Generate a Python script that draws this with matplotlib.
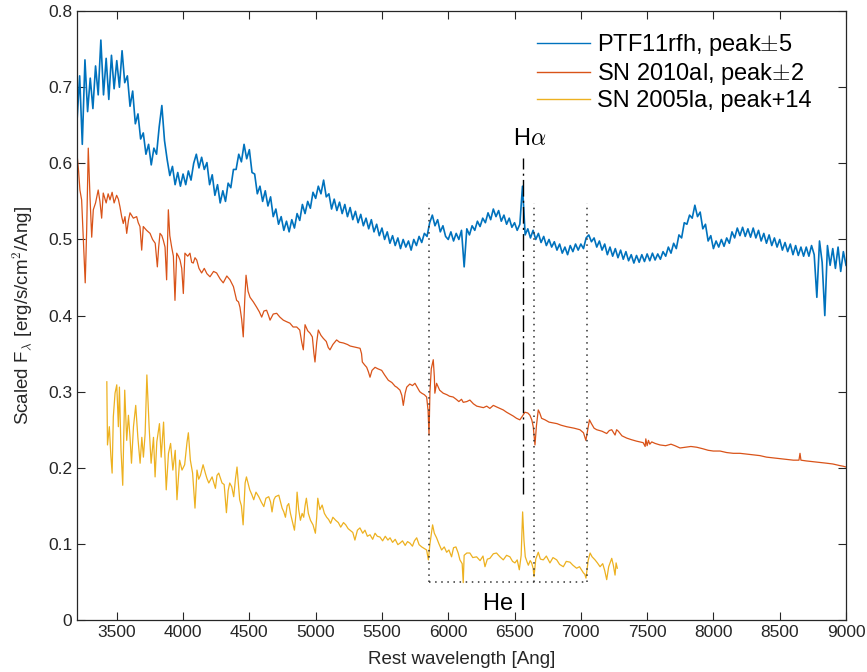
import numpy as np
import matplotlib
matplotlib.use("Agg")
import matplotlib.pyplot as plt

plt.rcParams['font.family'] = ['Liberation Sans', 'DejaVu Sans']
plt.rcParams['mathtext.fontset'] = 'cm'

# PTF11rfh: sampled every 20 Ang from 3200 to 9000
wl_ptf = np.arange(3200, 9001, 20)
flux_ptf = [
    0.655, 0.715, 0.625, 0.736, 0.668, 0.712, 0.672, 0.728, 0.690, 0.762,
    0.690, 0.738, 0.684, 0.742, 0.698, 0.735, 0.700, 0.748, 0.706, 0.715,
    0.675, 0.695, 0.652, 0.665, 0.632, 0.640, 0.612, 0.625, 0.598, 0.620,
    0.612, 0.648, 0.676, 0.630, 0.605, 0.584, 0.596, 0.572, 0.588, 0.570,
    0.586, 0.572, 0.590, 0.578, 0.600, 0.612, 0.594, 0.608, 0.592, 0.601,
    0.572, 0.585, 0.558, 0.572, 0.548, 0.564, 0.550, 0.574, 0.568, 0.592,
    0.592, 0.612, 0.602, 0.625, 0.606, 0.618, 0.588, 0.586, 0.560, 0.570,
    0.550, 0.564, 0.544, 0.556, 0.530, 0.540, 0.520, 0.530, 0.512, 0.524,
    0.510, 0.526, 0.515, 0.534, 0.525, 0.546, 0.534, 0.550, 0.541, 0.562,
    0.554, 0.570, 0.560, 0.578, 0.556, 0.560, 0.540, 0.553, 0.538, 0.549,
    0.534, 0.546, 0.530, 0.542, 0.526, 0.537, 0.522, 0.533, 0.518, 0.528,
    0.514, 0.526, 0.510, 0.520, 0.505, 0.515, 0.500, 0.510, 0.495, 0.505,
    0.492, 0.502, 0.488, 0.500, 0.490, 0.498, 0.486, 0.500, 0.492, 0.504,
    0.496, 0.508, 0.504, 0.522, 0.532, 0.518, 0.526, 0.510, 0.518, 0.504,
    0.500, 0.510, 0.498, 0.508, 0.500, 0.512, 0.464, 0.514, 0.506, 0.518,
    0.512, 0.524, 0.517, 0.528, 0.522, 0.535, 0.526, 0.540, 0.530, 0.538,
    0.524, 0.532, 0.520, 0.528, 0.516, 0.522, 0.512, 0.520, 0.570, 0.506,
    0.514, 0.502, 0.512, 0.500, 0.508, 0.496, 0.504, 0.492, 0.500, 0.490,
    0.497, 0.486, 0.494, 0.482, 0.490, 0.480, 0.492, 0.484, 0.494, 0.486,
    0.494, 0.488, 0.502, 0.506, 0.497, 0.502, 0.490, 0.498, 0.486, 0.494,
    0.480, 0.490, 0.478, 0.488, 0.476, 0.486, 0.474, 0.484, 0.472, 0.480,
    0.469, 0.479, 0.470, 0.480, 0.471, 0.481, 0.472, 0.482, 0.473, 0.481,
    0.474, 0.484, 0.478, 0.490, 0.482, 0.495, 0.488, 0.506, 0.502, 0.522,
    0.520, 0.532, 0.528, 0.545, 0.530, 0.536, 0.514, 0.520, 0.498, 0.505,
    0.488, 0.498, 0.490, 0.500, 0.491, 0.502, 0.495, 0.510, 0.502, 0.515,
    0.505, 0.516, 0.504, 0.514, 0.503, 0.515, 0.502, 0.512, 0.498, 0.508,
    0.495, 0.506, 0.492, 0.502, 0.490, 0.500, 0.486, 0.496, 0.484, 0.494,
    0.480, 0.492, 0.479, 0.490, 0.478, 0.490, 0.478, 0.492, 0.480, 0.424,
    0.498, 0.470, 0.400, 0.492, 0.466, 0.488, 0.462, 0.490, 0.458, 0.484,
    0.466,
]

# SN 2010al
wl_10al = [
    3200, 3212, 3222, 3235, 3248, 3262, 3273, 3285, 3298, 3311, 3323, 3340, 3360, 3373, 3386, 3398,
    3420, 3435, 3449, 3465, 3480, 3499, 3512, 3524, 3537, 3549, 3562, 3575, 3588, 3600, 3625, 3650,
    3662, 3675, 3688, 3700, 3725, 3751, 3770, 3790, 3806, 3816, 3826, 3840, 3851, 3864, 3876, 3889,
    3900, 3914, 3927, 3939, 3952, 3965, 3977, 3990, 4002, 4014, 4035, 4052, 4065, 4077, 4090, 4103,
    4120, 4140, 4160, 4180, 4203, 4230, 4253, 4280, 4303, 4330, 4354, 4380, 4404, 4418, 4429, 4442,
    4454, 4465, 4475, 4490, 4505, 4530, 4555, 4575, 4593, 4610, 4630, 4645, 4656, 4680, 4706, 4730,
    4756, 4780, 4806, 4830, 4857, 4880, 4895, 4907, 4920, 4940, 4957, 4975, 4987, 4995, 5008, 5020,
    5040, 5058, 5080, 5095, 5108, 5130, 5158, 5180, 5209, 5240, 5260, 5284, 5310, 5335, 5346, 5352,
    5370, 5385, 5398, 5410, 5425, 5448, 5470, 5498, 5520, 5548, 5575, 5600, 5611, 5636, 5650, 5661,
    5675, 5687, 5710, 5730, 5749, 5765, 5785, 5800, 5820, 5837, 5848, 5855, 5862, 5872, 5887, 5895,
    5899, 5912, 5935, 5962, 5990, 6010, 6037, 6060, 6080, 6100, 6113, 6140, 6163, 6190, 6215, 6239,
    6265, 6290, 6314, 6340, 6364, 6390, 6415, 6440, 6470, 6490, 6515, 6540, 6560, 6578, 6600, 6616,
    6630, 6641, 6654, 6665, 6679, 6690, 6704, 6730, 6760, 6792, 6820, 6850, 6892, 6920, 6950, 6993,
    7020, 7038, 7052, 7065, 7080, 7100, 7120, 7160, 7195, 7215, 7233, 7258, 7270, 7283, 7310, 7346,
    7380, 7420, 7446, 7470, 7485, 7490, 7500, 7510, 7520, 7535, 7560, 7597, 7640, 7680, 7710, 7748,
    7790, 7830, 7874, 7920, 7960, 7999, 8050, 8100, 8150, 8200, 8250, 8301, 8350, 8400, 8452, 8500,
    8550, 8603, 8645, 8653, 8660, 8700, 8753, 8800, 8854, 8900, 8950, 8979, 9000,
]
flux_10al = [
    0.613, 0.590, 0.565, 0.552, 0.500, 0.443, 0.512, 0.620, 0.556, 0.503, 0.539, 0.548, 0.565, 0.550, 0.528, 0.561,
    0.548, 0.560, 0.552, 0.562, 0.548, 0.558, 0.553, 0.543, 0.530, 0.521, 0.530, 0.508, 0.525, 0.535, 0.528, 0.530,
    0.522, 0.517, 0.486, 0.517, 0.512, 0.508, 0.500, 0.495, 0.464, 0.490, 0.508, 0.505, 0.499, 0.490, 0.447, 0.539,
    0.505, 0.490, 0.478, 0.420, 0.482, 0.478, 0.473, 0.462, 0.429, 0.482, 0.478, 0.482, 0.470, 0.469, 0.476, 0.473,
    0.462, 0.456, 0.462, 0.455, 0.451, 0.458, 0.456, 0.448, 0.443, 0.452, 0.447, 0.438, 0.420, 0.418, 0.411, 0.395,
    0.372, 0.420, 0.453, 0.432, 0.424, 0.418, 0.411, 0.405, 0.398, 0.406, 0.407, 0.400, 0.394, 0.402, 0.403, 0.398,
    0.394, 0.392, 0.390, 0.385, 0.385, 0.381, 0.365, 0.355, 0.388, 0.380, 0.377, 0.372, 0.350, 0.339, 0.365, 0.381,
    0.374, 0.370, 0.366, 0.358, 0.355, 0.362, 0.368, 0.365, 0.364, 0.362, 0.360, 0.359, 0.358, 0.357, 0.350, 0.339,
    0.335, 0.332, 0.326, 0.319, 0.328, 0.332, 0.330, 0.328, 0.322, 0.315, 0.312, 0.307, 0.306, 0.302, 0.295, 0.282,
    0.298, 0.306, 0.310, 0.308, 0.311, 0.306, 0.300, 0.298, 0.296, 0.293, 0.275, 0.243, 0.300, 0.330, 0.342, 0.320,
    0.298, 0.311, 0.302, 0.298, 0.296, 0.294, 0.293, 0.290, 0.287, 0.290, 0.286, 0.287, 0.289, 0.284, 0.281, 0.280,
    0.279, 0.281, 0.278, 0.282, 0.280, 0.278, 0.276, 0.273, 0.270, 0.268, 0.265, 0.263, 0.268, 0.273, 0.272, 0.269,
    0.263, 0.254, 0.230, 0.255, 0.276, 0.272, 0.265, 0.263, 0.260, 0.259, 0.258, 0.256, 0.254, 0.253, 0.252, 0.250,
    0.246, 0.236, 0.250, 0.263, 0.258, 0.252, 0.250, 0.248, 0.245, 0.249, 0.250, 0.243, 0.250, 0.248, 0.242, 0.239,
    0.237, 0.235, 0.234, 0.233, 0.228, 0.238, 0.229, 0.236, 0.231, 0.234, 0.232, 0.230, 0.229, 0.231, 0.229, 0.226,
    0.227, 0.228, 0.227, 0.225, 0.223, 0.222, 0.222, 0.220, 0.219, 0.219, 0.218, 0.217, 0.216, 0.214, 0.213, 0.212,
    0.211, 0.210, 0.210, 0.219, 0.210, 0.209, 0.208, 0.207, 0.206, 0.205, 0.203, 0.202, 0.201,
]

# SN 2005la
wl_05la = [
    3425, 3430, 3444, 3455, 3465, 3474, 3487, 3500, 3512, 3520, 3532, 3545, 3560, 3575, 3588, 3600,
    3611, 3626, 3643, 3659, 3676, 3689, 3701, 3714, 3727, 3744, 3759, 3777, 3789, 3802, 3822, 3835,
    3853, 3873, 3890, 3906, 3923, 3941, 3954, 3974, 3992, 4012, 4030, 4040, 4055, 4072, 4090, 4105,
    4118, 4131, 4151, 4168, 4180, 4194, 4219, 4244, 4256, 4269, 4294, 4310, 4327, 4340, 4352, 4367,
    4382, 4395, 4407, 4427, 4440, 4453, 4468, 4478, 4490, 4503, 4518, 4533, 4550, 4571, 4590, 4609,
    4625, 4646, 4660, 4671, 4685, 4697, 4722, 4735, 4747, 4760, 4772, 4785, 4797, 4810, 4822, 4840,
    4852, 4860, 4872, 4885, 4898, 4910, 4920, 4930, 4945, 4961, 4980, 4998, 5008, 5016, 5032, 5049,
    5066, 5083, 5098, 5113, 5130, 5151, 5171, 5189, 5210, 5227, 5245, 5259, 5280, 5296, 5315, 5334,
    5355, 5372, 5390, 5410, 5430, 5448, 5465, 5485, 5505, 5525, 5545, 5561, 5580, 5600, 5620, 5636,
    5655, 5675, 5693, 5711, 5730, 5745, 5762, 5780, 5800, 5818, 5837, 5850, 5862, 5874, 5882, 5895,
    5912, 5930, 5950, 5970, 5988, 6005, 6025, 6040, 6058, 6075, 6088, 6105, 6113, 6120, 6140, 6163,
    6185, 6214, 6240, 6262, 6277, 6295, 6314, 6340, 6364, 6390, 6415, 6440, 6465, 6485, 6503, 6520,
    6536, 6550, 6561, 6571, 6581, 6595, 6604, 6618, 6629, 6640, 6647, 6660, 6679, 6695, 6717, 6740,
    6767, 6790, 6818, 6840, 6868, 6890, 6918, 6940, 6968, 6990, 7019, 7030, 7039, 7055, 7070, 7085,
    7107, 7125, 7145, 7165, 7180, 7195, 7210, 7233, 7245, 7258, 7266, 7275,
]
flux_05la = [
    0.313, 0.230, 0.254, 0.217, 0.193, 0.267, 0.298, 0.309, 0.254, 0.306, 0.223, 0.177, 0.302, 0.236, 0.269, 0.240,
    0.206, 0.254, 0.282, 0.240, 0.206, 0.240, 0.214, 0.245, 0.322, 0.254, 0.206, 0.240, 0.188, 0.234, 0.258, 0.214,
    0.260, 0.171, 0.219, 0.232, 0.197, 0.223, 0.158, 0.210, 0.197, 0.204, 0.234, 0.246, 0.210, 0.193, 0.147, 0.197,
    0.185, 0.190, 0.204, 0.193, 0.186, 0.180, 0.188, 0.173, 0.190, 0.193, 0.180, 0.178, 0.141, 0.170, 0.180, 0.175,
    0.162, 0.185, 0.201, 0.158, 0.150, 0.125, 0.180, 0.188, 0.180, 0.171, 0.165, 0.158, 0.168, 0.162, 0.155, 0.149,
    0.160, 0.162, 0.155, 0.142, 0.158, 0.162, 0.164, 0.155, 0.147, 0.142, 0.135, 0.150, 0.153, 0.140, 0.131, 0.118,
    0.140, 0.168, 0.145, 0.131, 0.140, 0.135, 0.150, 0.160, 0.140, 0.131, 0.125, 0.114, 0.135, 0.160, 0.145, 0.151,
    0.140, 0.135, 0.132, 0.127, 0.135, 0.131, 0.128, 0.122, 0.128, 0.125, 0.120, 0.118, 0.115, 0.105, 0.118, 0.121,
    0.114, 0.118, 0.110, 0.112, 0.106, 0.114, 0.110, 0.109, 0.104, 0.110, 0.105, 0.108, 0.102, 0.106, 0.099, 0.101,
    0.104, 0.098, 0.103, 0.101, 0.097, 0.104, 0.108, 0.099, 0.096, 0.094, 0.092, 0.079, 0.100, 0.115, 0.125, 0.114,
    0.108, 0.100, 0.092, 0.096, 0.089, 0.092, 0.083, 0.095, 0.096, 0.088, 0.079, 0.074, 0.049, 0.085, 0.088, 0.088,
    0.082, 0.083, 0.078, 0.084, 0.070, 0.080, 0.081, 0.087, 0.088, 0.083, 0.079, 0.085, 0.083, 0.077, 0.075, 0.079,
    0.066, 0.085, 0.142, 0.105, 0.083, 0.076, 0.072, 0.078, 0.075, 0.068, 0.057, 0.080, 0.089, 0.080, 0.079, 0.084,
    0.075, 0.082, 0.079, 0.073, 0.070, 0.077, 0.076, 0.072, 0.068, 0.070, 0.062, 0.060, 0.055, 0.078, 0.088, 0.083,
    0.079, 0.075, 0.070, 0.074, 0.065, 0.053, 0.070, 0.081, 0.072, 0.059, 0.075, 0.068,
]

labels = ['PTF11rfh, peak$\\pm$5', 'SN 2010al, peak$\\pm$2', 'SN 2005la, peak+14']
colors = ['#0072BD', '#D95319', '#EDB120']

# line markers
he_lines = [5855, 6645, 7050]
he_top = 0.548
he_bottom = 0.05
halpha = 6564
halpha_range = [0.165, 0.607]

fig = plt.figure(figsize=(8.67, 6.72), dpi=100)
ax = fig.add_axes([0.0888, 0.0774, 0.887, 0.906])

ax.plot(wl_ptf, flux_ptf, color=colors[0], lw=1.2, label=labels[0])
ax.plot(wl_10al, flux_10al, color=colors[1], lw=0.9, label=labels[1])
ax.plot(wl_05la, flux_05la, color=colors[2], lw=0.9, label=labels[2])

for w in he_lines:
    ax.plot([w, w], [he_bottom, he_top], color='#333333', ls=(0, (1, 3)), lw=1.1)
ax.plot([he_lines[0], he_lines[-1]], [he_bottom, he_bottom], color='#333333', ls=(0, (1, 3)), lw=1.1)
ax.plot([halpha, halpha], halpha_range, color='black', ls=(0, (12, 3, 1.5, 3)), lw=1.0)

ax.text(6490, 0.624, 'H$\\alpha$', fontsize=17, ha='left', va='baseline')
ax.text(6425, 0.021, 'He I', fontsize=17, ha='center', va='center')

ax.set_xlim(3200, 9000)
ax.set_ylim(0, 0.8)
ax.set_xticks(np.arange(3500, 9001, 500))
ax.set_yticks(np.arange(0, 0.81, 0.1))
ax.set_yticklabels(['0', '0.1', '0.2', '0.3', '0.4', '0.5', '0.6', '0.7', '0.8'])
ax.tick_params(direction='in', top=True, right=True, length=6, width=0.8,
               labelsize=12.5, colors='#262626')
for s in ax.spines.values():
    s.set_color('#262626')
    s.set_linewidth(0.9)

ax.set_xlabel('Rest wavelength [Ang]', fontsize=13.5, color='#262626', labelpad=8)
ax.set_ylabel('Scaled F$_\\lambda$ [erg/s/cm$^2$/Ang]', fontsize=13.5, color='#262626', labelpad=9)

leg = ax.legend(loc='upper left', bbox_to_anchor=(0.598, 0.965), frameon=False, fontsize=17,
                handlelength=2.25, handletextpad=0.3, labelspacing=0.12, borderpad=0,
                borderaxespad=0)
for h in leg.get_lines():
    h.set_linewidth(1.0)

fig.savefig('out.png', dpi=100)
